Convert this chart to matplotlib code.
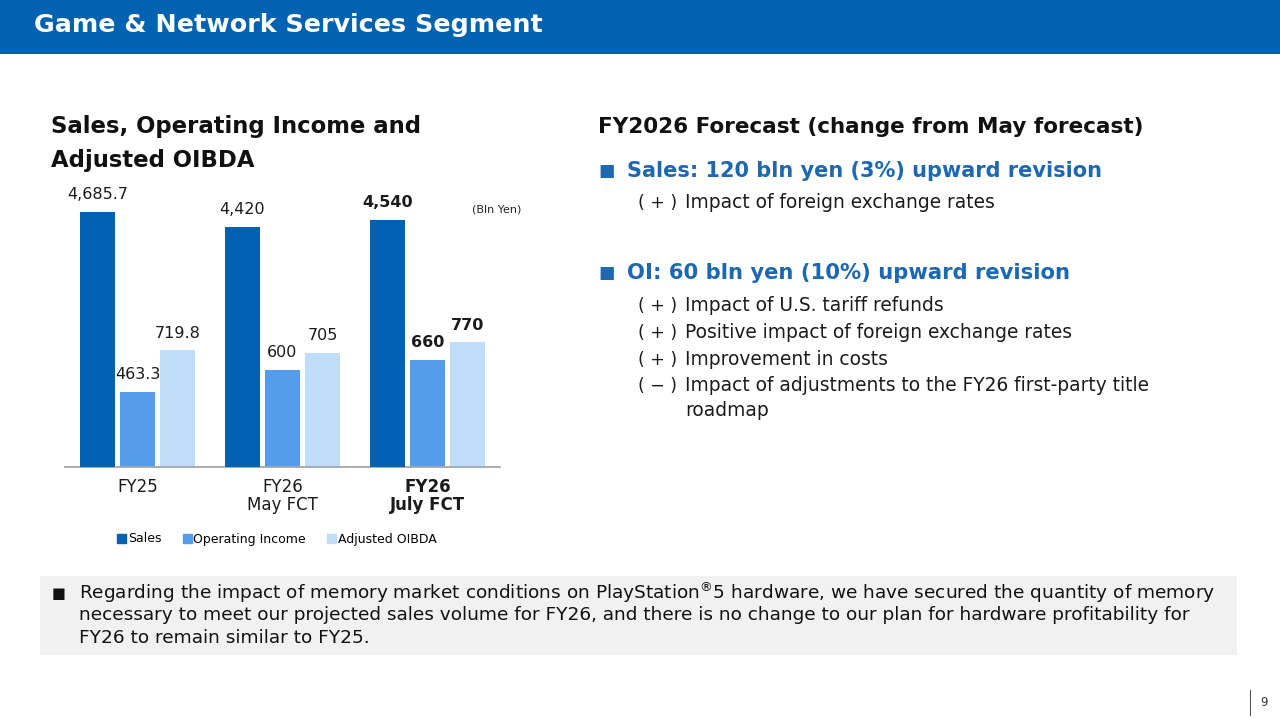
import numpy as np
import matplotlib
matplotlib.use("Agg")
import matplotlib.pyplot as plt
from matplotlib.patches import Rectangle, Patch
from matplotlib.lines import Line2D

# data (bln yen)
categories = ["FY25", "FY26\nMay FCT", "FY26\nJuly FCT"]
sales = [4685.7, 4420, 4540]
op_income = [463.3, 600, 660]
adj_oibda = [719.8, 705, 770]
sales_labels = ["4,685.7", "4,420", "4,540"]
oi_labels = ["463.3", "600", "660"]
oibda_labels = ["719.8", "705", "770"]
bold_group = [False, False, True]

sales_points = [
    "Impact of foreign exchange rates",
]
oi_points = [
    ("+", "Impact of U.S. tariff refunds"),
    ("+", "Positive impact of foreign exchange rates"),
    ("+", "Improvement in costs"),
    ("\u2212", "Impact of adjustments to the FY26 first-party title\nroadmap"),
]

W, H = 1280, 718
C_HEAD = "#0062B1"
C_SALES = "#0060B2"
C_OI = "#559CEA"
C_OIBDA = "#BFDDF8"
C_BLUE_TXT = "#1C68B3"
C_TXT = "#1A1A1A"

plt.rcParams['font.family'] = ['DejaVu Sans']

fig = plt.figure(figsize=(W / 100, H / 100), dpi=100)
fig.patch.set_facecolor("white")


def px(x, y):
    return x / W, 1 - y / H


# header band
fig.patches.append(Rectangle(px(0, 54), 1, 54 / H, transform=fig.transFigure,
                             facecolor=C_HEAD, edgecolor="none", zorder=0))
fig.text(*px(34, 25), "Game & Network Services Segment", color="white",
         fontsize=18.3, fontweight="bold", va="center", ha="left")

# chart title
fig.text(*px(51, 127), "Sales, Operating Income and", fontsize=16.4,
         fontweight="bold", va="center", color="#111111")
fig.text(*px(51, 161), "Adjusted OIBDA", fontsize=16.4, fontweight="bold",
         va="center", color="#111111")
fig.text(*px(472, 209), "(Bln Yen)", fontsize=8, va="center", color="#222222")

# bar chart: sales drawn on its own scale (about 1/3 of the others)
left, right, top, base = 65, 500, 180, 467
ax = fig.add_axes([left / W, 1 - base / H, (right - left) / W, (base - top) / H])
ax2 = ax.twinx()
x = np.arange(len(categories))
dx, bw = 40 / 145, 35 / 145

ax2.bar(x - dx, sales, bw, color=C_SALES)
ax.bar(x, op_income, bw, color=C_OI)
ax.bar(x + dx, adj_oibda, bw, color=C_OIBDA)

ax.set_xlim(-0.5, 2.5)
ax.set_ylim(0, 1772)
ax2.set_ylim(0, 5276)

for a in (ax, ax2):
    for s in ("top", "left", "right"):
        a.spines[s].set_visible(False)
    a.set_yticks([])
    a.patch.set_visible(False)
ax.spines["bottom"].set_color("#A6A6A6")
ax.spines["bottom"].set_linewidth(1.3)
ax2.spines["bottom"].set_visible(False)

ax.set_xticks(x)
ax.set_xticklabels(categories, fontsize=12, linespacing=1.0, color=C_TXT)
ax.tick_params(axis="x", length=0, pad=8)
for lbl, b in zip(ax.get_xticklabels(), bold_group):
    if b:
        lbl.set_fontweight("bold")

for i in range(len(categories)):
    fw = "bold" if bold_group[i] else "normal"
    ax2.annotate(sales_labels[i], (x[i] - dx, sales[i]), xytext=(0, 7),
                 textcoords="offset points", ha="center", va="bottom",
                 fontsize=11.5, fontweight=fw, color=C_TXT)
    ax.annotate(oibda_labels[i], (x[i] + dx, adj_oibda[i]), xytext=(0, 7),
                textcoords="offset points", ha="center", va="bottom",
                fontsize=11.5, fontweight=fw, color=C_TXT)
    ax.annotate(oi_labels[i], (x[i], op_income[i]), xytext=(0, 7),
                textcoords="offset points", ha="center", va="bottom",
                fontsize=11.5, fontweight=fw, color=C_TXT)

handles = [Patch(color=C_SALES), Patch(color=C_OI), Patch(color=C_OIBDA)]
fig.legend(handles, ["Sales", "Operating Income", "Adjusted OIBDA"],
           loc="center", bbox_to_anchor=px(277, 539), ncol=3, frameon=False,
           fontsize=9, handlelength=0.7, handleheight=0.7,
           handletextpad=0.15, columnspacing=1.7)

# right side text
fig.text(*px(598, 127), "FY2026 Forecast (change from May forecast)",
         fontsize=15.5, fontweight="bold", va="center", color="#111111")

fig.text(*px(598, 171), "\u25A0", fontsize=12.5, color=C_BLUE_TXT, va="center")
fig.text(*px(627, 171), "Sales: 120 bln yen (3%) upward revision",
         fontsize=15, fontweight="bold", color=C_BLUE_TXT, va="center")
fig.text(*px(638, 203), "( + )", fontsize=12.5, va="center", color=C_TXT)
fig.text(*px(685, 203), sales_points[0], fontsize=13.4, va="center",
         color=C_TXT)

fig.text(*px(598, 273), "\u25A0", fontsize=12.5, color=C_BLUE_TXT, va="center")
fig.text(*px(627, 273), "OI: 60 bln yen (10%) upward revision",
         fontsize=15.2, fontweight="bold", color=C_BLUE_TXT, va="center")
ys = [306, 333, 360, 386]
for (mark, txt), y in zip(oi_points, ys):
    fig.text(*px(638, y), "( " + mark + " )", fontsize=12.5, va="center",
             color=C_TXT)
    fig.text(*px(685, y - 10), txt, fontsize=13.4, va="top", color=C_TXT,
             linespacing=1.38)

# bottom note box
fig.patches.append(Rectangle(px(40, 655), (1237 - 40) / W, (655 - 576) / H,
                             transform=fig.transFigure, facecolor="#F1F1F1",
                             edgecolor="none", zorder=0))
fig.text(*px(52, 593), "\u25A0", fontsize=10.5, va="center", color="#111111")
note_lines = [
    r"Regarding the impact of memory market conditions on PlayStation$^{\circledR}$5 hardware, we have secured the quantity of memory",
    "necessary to meet our projected sales volume for FY26, and there is no change to our plan for hardware profitability for",
    "FY26 to remain similar to FY25.",
]
for line, y in zip(note_lines, [593, 615, 638]):
    fig.text(*px(79, y), line, fontsize=13.3, va="center", color="#111111")

# page number
fig.lines.append(Line2D([1250 / W, 1250 / W], [1 - 690 / H, 1 - 715 / H],
                        transform=fig.transFigure, color="#555555", lw=0.8))
fig.text(*px(1260, 703), "9", fontsize=8.5, va="center", color="#333333")

fig.savefig("out.png", dpi=100, facecolor="white")
